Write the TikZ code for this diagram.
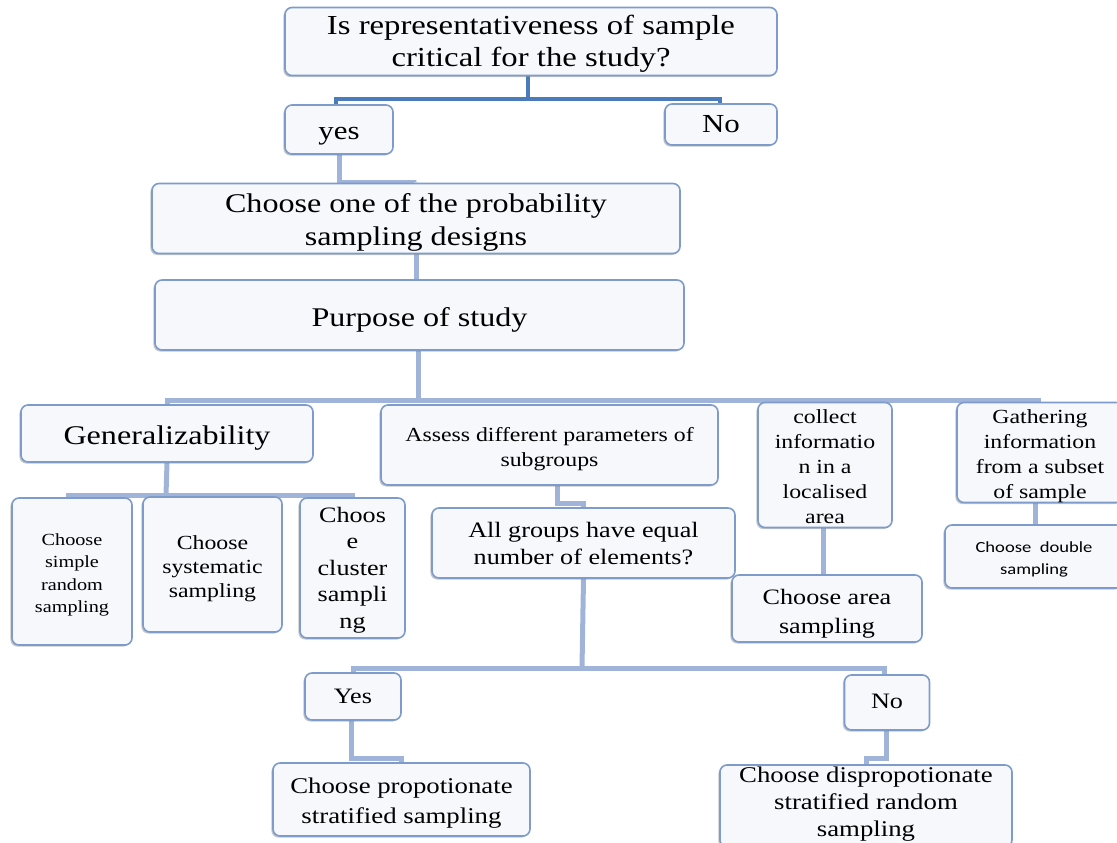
\documentclass[tikz,border=0pt]{standalone}
\usepackage{fontspec}
\setmainfont{Liberation Serif}[FakeStretch=1.19]
\newfontfamily\calib{Carlito}[FakeStretch=1.2]
\usetikzlibrary{shadows,backgrounds}
\definecolor{boxline}{HTML}{7E9CCB}
\definecolor{boxfill}{HTML}{F6F8FC}
\definecolor{darkconn}{HTML}{4A7CBB}
\definecolor{lightconn}{HTML}{9FB4D8}
\newcommand\tx[2]{\raisebox{-#1}[\height][\depth]{\begin{tabular}{@{}c@{}}#2\end{tabular}}}
\tikzset{
  box/.style={draw=boxline, line width=1.6pt, fill=boxfill, rounded corners=7pt,
    align=center, inner sep=2pt, text=black,
    drop shadow={shadow xshift=-1.6pt, shadow yshift=-1.6pt, opacity=0.45, fill=gray}},
  connA/.style={draw=darkconn, line width=4pt},
  connB/.style={draw=lightconn, line width=5pt},
  fs/.style args={#1/#2}{font=\rmfamily\fontsize{#1}{#2}\selectfont}
}
\begin{document}
\begin{tikzpicture}[x=1pt,y=-1pt]
\useasboundingbox (0,0) rectangle (1117,843);

% boxes
\node[box, fs=27.5/32, minimum width=492pt, minimum height=63pt] (top) at (531,41.5)
  {\tx{3pt}{Is representativeness of sample\\critical for the study?}};
\node[box, fs=26/32, minimum width=108pt, minimum height=49pt] (yes) at (339,129.5) {\raisebox{-10pt}[0pt][0pt]{yes}};
\node[box, fs=26/32, minimum width=112pt, minimum height=41pt] (no) at (721,124.5) {No};
\node[box, fs=27/33, minimum width=528pt, minimum height=67pt] (choose1) at (416,218.5)
  {\tx{4pt}{Choose one of the probability\\sampling designs}};
\node[box, fs=27/33, minimum width=529pt, minimum height=70pt] (purpose) at (419.5,315) {\tx{5pt}{Purpose of study}};
\node[box, fs=27/33, minimum width=292pt, minimum height=57pt] (gen) at (167,433.5) {\tx{4pt}{Generalizability}};
\node[box, fs=20/25, minimum width=337pt, minimum height=80pt] (assess) at (549.5,445)
  {\tx{4pt}{Assess different parameters of\\subgroups}};
\node[box, fs=20/25, minimum width=134pt, minimum height=120pt, inner sep=0pt] (collect) at (825,465)
  {\tx{3pt}{collect\\informatio\\n in a\\localised\\area}};
\node[box, fs=20/25, minimum width=166pt, minimum height=95pt, inner sep=0pt] (gather) at (1040,452.5)
  {\tx{3pt}{Gathering\\information\\from a subset\\of sample}};
\node[box, font=\calib\fontsize{15.5}{22}\selectfont, minimum width=178pt, minimum height=63pt] (double) at (1034,556.5)
  {\tx{3pt}{Choose\ \ double\\sampling}};
\node[box, fs=17/22.3, minimum width=120pt, minimum height=147pt] (simple) at (72,571.5)
  {\tx{3pt}{Choose\\simple\\random\\sampling}};
\node[box, fs=20/24, minimum width=139pt, minimum height=135pt] (syst) at (212.5,564.5)
  {\tx{4pt}{Choose\\systematic\\sampling}};
\node[box, fs=22/26.5, minimum width=105pt, minimum height=140pt, inner sep=0pt] (cluster) at (352.5,568)
  {\tx{2pt}{Choos\\e\\cluster\\sampli\\ng}};
\node[box, fs=22/27, minimum width=303pt, minimum height=70pt] (allg) at (583.5,543)
  {\tx{3pt}{All groups have equal\\number of elements?}};
\node[box, fs=22/29, minimum width=190pt, minimum height=67pt] (area) at (827,608.5)
  {\tx{5pt}{Choose area\\sampling}};
\node[box, fs=22/27, minimum width=96pt, minimum height=47pt] (yes2) at (353,696.5) {\tx{2pt}{Yes}};
\node[box, fs=22/27, minimum width=85pt, minimum height=55pt] (no2) at (887,702.5) {\tx{1pt}{No}};
\node[box, fs=22.5/30, minimum width=257pt, minimum height=73pt] (prop) at (401.5,799.5)
  {\tx{3pt}{Choose propotionate\\stratified sampling}};
\node[box, fs=22.5/27, minimum width=292pt, minimum height=82pt, inner sep=0pt] (disprop) at (866,806)
  {\tx{-2pt}{Choose dispropotionate\\stratified random\\sampling}};

% bar coordinates
\coordinate (b1) at (528,99);
\coordinate (b4) at (418,400);
\coordinate (b5) at (166,495);
\coordinate (b7) at (582,668);

\begin{scope}[on background layer]
\draw[connA] ([xshift=-3pt]top.south) -- (b1);
\draw[connA] (b1) -| ([xshift=-3pt]yes.north);
\draw[connA] (b1) -| ([xshift=-1pt]no.north);
\draw[connB] (yes.south) -- ++(0,28) -| (choose1.north);
\draw[connB] (choose1.south) -- ++(0,27) -| (purpose.north);
\draw[connB] ([xshift=-1.5pt]purpose.south) -- (b4);
\draw[connB] (b4) -| (gen.north);
\draw[connB] (b4) -| (collect.north);
\draw[connB] (b4) -| ([xshift=-2pt]gather.north);
\draw[connB] (gen.south) -- (b5);
\draw[connB] (b5) -| ([xshift=-4pt]simple.north);
\draw[connB] (b5) -| (cluster.north);
\draw[connB] ([xshift=7.5pt]assess.south) -- ++(0,18) -| (allg.north);
\draw[connB] (allg.south) -- (b7);
\draw[connB] (b7) -| (yes2.north);
\draw[connB] (b7) -| ([xshift=-3pt]no2.north);
\draw[connB] ([xshift=-2pt]yes2.south) -- ++(0,38) -| (prop.north);
\draw[connB] ([xshift=-1pt]no2.south) -- ++(0,28) -| (disprop.north);
\draw[connB] ([xshift=-2pt]collect.south) -- ([xshift=-4pt]area.north);
\draw[connB] ([xshift=-5pt]gather.south) -- ([xshift=1pt]double.north);
\end{scope}
\end{tikzpicture}
\end{document}
